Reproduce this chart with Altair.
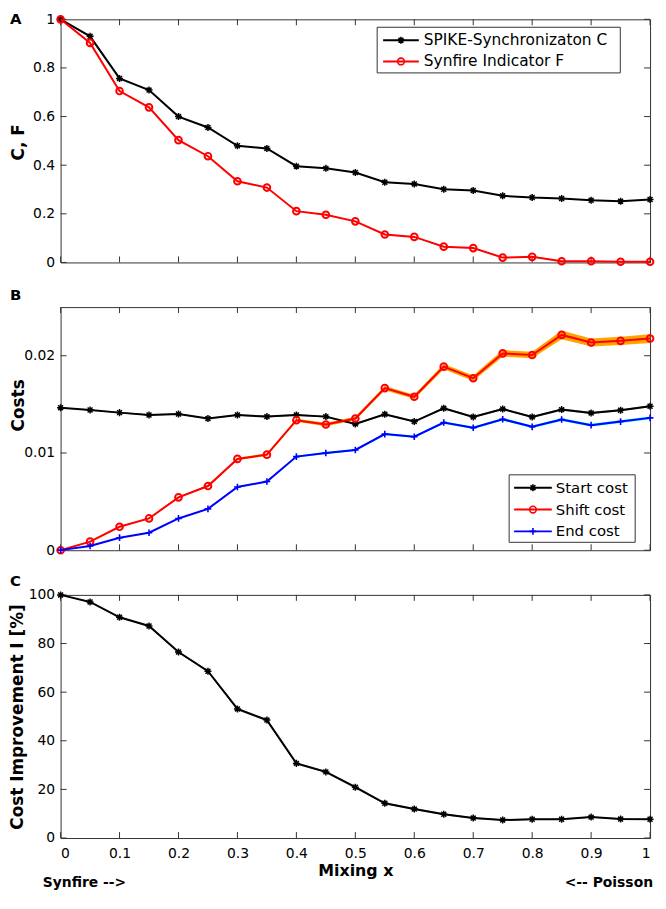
import altair as alt
import pandas as pd

# ---------------- data ----------------
mix = [0.0, 0.05, 0.1, 0.15, 0.2, 0.25, 0.3, 0.35, 0.4, 0.45, 0.5,
       0.55, 0.6, 0.65, 0.7, 0.75, 0.8, 0.85, 0.9, 0.95, 1.0]

spike_c = [1.0, 0.930, 0.757, 0.709, 0.600, 0.555, 0.480, 0.469, 0.396, 0.387, 0.370,
           0.330, 0.323, 0.301, 0.296, 0.274, 0.267, 0.263, 0.256, 0.252, 0.259]
synfire_f = [1.0, 0.903, 0.705, 0.638, 0.503, 0.437, 0.334, 0.308, 0.211, 0.196, 0.169,
             0.115, 0.105, 0.065, 0.059, 0.020, 0.023, 0.005, 0.005, 0.003, 0.003]

start_cost = [0.01466, 0.01442, 0.01415, 0.01391, 0.01401, 0.01354, 0.01391, 0.01374, 0.01391, 0.01374, 0.01299,
              0.01398, 0.01323, 0.01459, 0.01371, 0.01452, 0.01371, 0.01446, 0.01412, 0.01439, 0.01480]
start_err = [0.00005, 0.00006, 0.00006, 0.00007, 0.00007, 0.00007, 0.00008, 0.00008, 0.00008, 0.00008, 0.00009,
             0.00009, 0.00009, 0.00010, 0.00010, 0.00010, 0.00010, 0.00011, 0.00011, 0.00011, 0.00011]
shift_cost = [0.0, 0.00088, 0.00241, 0.00327, 0.00544, 0.00660, 0.00939, 0.00983, 0.01337, 0.01293, 0.01354,
              0.01667, 0.01578, 0.01888, 0.01769, 0.02024, 0.02007, 0.02214, 0.02136, 0.02153, 0.02177]
shift_err = [0.0, 0.00003, 0.00005, 0.00006, 0.00008, 0.00010, 0.00012, 0.00013, 0.00016, 0.00017, 0.00018,
             0.00022, 0.00022, 0.00028, 0.00028, 0.00034, 0.00034, 0.00045, 0.00042, 0.00042, 0.00045]
end_cost = [0.00001, 0.00044, 0.00129, 0.00180, 0.00327, 0.00425, 0.00650, 0.00707, 0.00963, 0.01000, 0.01031,
            0.01194, 0.01167, 0.01313, 0.01259, 0.01347, 0.01269, 0.01344, 0.01286, 0.01323, 0.01361]
end_err = [0.0, 0.00002, 0.00003, 0.00004, 0.00005, 0.00006, 0.00007, 0.00008, 0.00009, 0.00010, 0.00010,
           0.00011, 0.00011, 0.00012, 0.00012, 0.00013, 0.00013, 0.00014, 0.00014, 0.00014, 0.00015]

improvement = [100.0, 97.1, 90.8, 87.2, 76.5, 68.6, 53.1, 48.5, 30.7, 27.2, 20.9,
               14.3, 11.9, 9.8, 8.2, 7.4, 7.7, 7.7, 8.6, 7.8, 7.7]
improvement_err = [0.0, 0.2, 0.3, 0.3, 0.4, 0.4, 0.5, 0.5, 0.5, 0.5, 0.5,
                   0.4, 0.4, 0.4, 0.3, 0.3, 0.3, 0.3, 0.3, 0.3, 0.3]

x_ticks = [0, 0.1, 0.2, 0.3, 0.4, 0.5, 0.6, 0.7, 0.8, 0.9, 1.0]
a_ticks = [0, 0.2, 0.4, 0.6, 0.8, 1.0]
b_ticks = [0, 0.01, 0.02]
c_ticks = [0, 20, 40, 60, 80, 100]

legend_a = ["SPIKE-Synchronizaton C", "Synfire Indicator F"]
legend_b = ["Start cost", "Shift cost", "End cost"]
panel_letters = ["A", "B", "C"]
x_title = "Mixing x"
y_titles = ["C, F", "Costs", "Cost Improvement I [%]"]
bottom_notes = ["Synfire -->", "<-- Poisson"]

# ---------------- style ----------------
FONT = "DejaVu Sans"
AX = "#333333"
W, H = 594, 245
STAR = "M-1,0L1,0M0,-1L0,1M-0.7,-0.7L0.7,0.7M-0.7,0.7L0.7,-0.7"
PLUS = "M-1,0L1,0M0,-1L0,1"

xs = alt.Scale(domain=[0, 1], nice=False, zero=False)

df_a = pd.DataFrame({"mix": mix, "c": spike_c, "f": synfire_f})
df_b = pd.DataFrame({
    "mix": mix,
    "start": start_cost, "start_lo": [v - e for v, e in zip(start_cost, start_err)],
    "start_hi": [v + e for v, e in zip(start_cost, start_err)],
    "shift": shift_cost, "shift_lo": [v - e for v, e in zip(shift_cost, shift_err)],
    "shift_hi": [v + e for v, e in zip(shift_cost, shift_err)],
    "end": end_cost, "end_lo": [v - e for v, e in zip(end_cost, end_err)],
    "end_hi": [v + e for v, e in zip(end_cost, end_err)],
})
df_c = pd.DataFrame({
    "mix": mix, "imp": improvement,
    "imp_lo": [v - e for v, e in zip(improvement, improvement_err)],
    "imp_hi": [v + e for v, e in zip(improvement, improvement_err)],
})


def y_axis(values, title, title_x, title_y):
    return alt.Axis(values=values, format="~r", ticks=False, tickSize=0, domain=False, grid=False,
                    labelFont=FONT, labelFontSize=14, labelColor="#000", labelPadding=6,
                    title=title, titleFont=FONT, titleFontSize=17, titleFontWeight="bold",
                    titleColor="#000", titleX=title_x, titleY=title_y)


def tick_layers(yvals, ys, xax, yax):
    xdf = pd.DataFrame({"t": x_ticks})
    ydf = pd.DataFrame({"t": yvals})
    rule = dict(color=AX, strokeWidth=1)
    return [
        alt.Chart(xdf).mark_rule(**rule).encode(x=alt.X("t:Q", scale=xs, axis=xax),
                                                y=alt.value(H), y2=alt.value(H - 6)),
        alt.Chart(xdf).mark_rule(**rule).encode(x=alt.X("t:Q", scale=xs, axis=xax),
                                                y=alt.value(0), y2=alt.value(6)),
        alt.Chart(ydf).mark_rule(**rule).encode(y=alt.Y("t:Q", scale=ys, axis=yax),
                                                x=alt.value(0), x2=alt.value(6)),
        alt.Chart(ydf).mark_rule(**rule).encode(y=alt.Y("t:Q", scale=ys, axis=yax),
                                                x=alt.value(W - 6), x2=alt.value(W)),
    ]


def letter(ch, top):
    d = pd.DataFrame({"s": [ch]})
    return alt.Chart(d).mark_text(align="left", baseline="top", font=FONT, fontSize=15,
                                  fontWeight="bold", color="#000").encode(
        x=alt.value(-51), y=alt.value(top), text="s:N")


def legend(labels, colors, shapes, sizes, box, x0, x1, tx, ys_pos, fs):
    layers = []
    bdf = pd.DataFrame({"k": [0]})
    layers.append(alt.Chart(bdf).mark_rect(fill="white", stroke=AX, strokeWidth=1).encode(
        x=alt.value(box[0]), x2=alt.value(box[1]), y=alt.value(box[2]), y2=alt.value(box[3])))
    for lab, col, shp, sz, yy in zip(labels, colors, shapes, sizes, ys_pos):
        d = pd.DataFrame({"label": [lab]})
        layers.append(alt.Chart(d).mark_rule(color=col, strokeWidth=2).encode(
            x=alt.value(x0), x2=alt.value(x1), y=alt.value(yy)))
        layers.append(alt.Chart(d).mark_point(shape=shp, filled=False, color=col, size=sz,
                                              strokeWidth=1.6, opacity=1).encode(
            x=alt.value((x0 + x1) / 2), y=alt.value(yy)))
        layers.append(alt.Chart(d).mark_text(align="left", baseline="middle", font=FONT,
                                             fontSize=fs, color="#000").encode(
            x=alt.value(tx), y=alt.value(yy), text="label:N"))
    return layers


def series(df, field, color, shape, size, sw, xax, yax, ys):
    ln = alt.Chart(df).mark_line(color=color, strokeWidth=2).encode(
        x=alt.X("mix:Q", scale=xs, axis=xax),
        y=alt.Y(f"{field}:Q", scale=ys, axis=yax))
    pt = alt.Chart(df).mark_point(shape=shape, filled=False, color=color, size=size,
                                  strokeWidth=sw, opacity=1).encode(
        x=alt.X("mix:Q", scale=xs, axis=xax),
        y=alt.Y(f"{field}:Q", scale=ys, axis=yax))
    return [ln, pt]


def band(df, field, color, xax, yax, ys):
    return alt.Chart(df).mark_area(color=color, opacity=1).encode(
        x=alt.X("mix:Q", scale=xs, axis=xax),
        y=alt.Y(f"{field}_lo:Q", scale=ys, axis=yax),
        y2=f"{field}_hi:Q")


# ---------------- panel A ----------------
ys_a = alt.Scale(domain=[0, 1], nice=False, zero=False)
ya = y_axis(a_ticks, y_titles[0], -33, H / 2 + 1)
la_r = W - 30
panel_a = alt.layer(
    *tick_layers(a_ticks, ys_a, None, ya),
    *series(df_a, "c", "#000000", STAR, 50, 1.5, None, ya, ys_a),
    *series(df_a, "f", "#ff0000", "circle", 45, 2, None, ya, ys_a),
    *legend(legend_a, ["#000000", "#ff0000"], [STAR, "circle"], [50, 45],
            (la_r - 245, la_r, 8, 54), la_r - 239, la_r - 203, la_r - 198, [21, 42.5], 15.5),
    letter(panel_letters[0], -7),
).properties(width=W, height=H)

# ---------------- panel B ----------------
ys_b = alt.Scale(domain=[0, 0.025], nice=False, zero=False)
yb = y_axis(b_ticks, y_titles[1], -33, H / 2 - 24)
lb_r = W - 15
panel_b = alt.layer(
    *tick_layers(b_ticks, ys_b, None, yb),
    band(df_b, "start", "#9a9a9a", None, yb, ys_b),
    band(df_b, "shift", "#ffa500", None, yb, ys_b),
    band(df_b, "end", "#00ffff", None, yb, ys_b),
    *series(df_b, "start", "#000000", STAR, 50, 1.5, None, yb, ys_b),
    *series(df_b, "shift", "#ff0000", "circle", 45, 2, None, yb, ys_b),
    *series(df_b, "end", "#0000ff", PLUS, 45, 1.6, None, yb, ys_b),
    *legend(legend_b, ["#000000", "#ff0000", "#0000ff"], [STAR, "circle", PLUS], [50, 45, 45],
            (lb_r - 127, lb_r, 169, 237), lb_r - 122, lb_r - 84, lb_r - 80, [182, 204, 226], 15),
    letter(panel_letters[1], -19),
).properties(width=W, height=H)

# ---------------- panel C ----------------
ys_c = alt.Scale(domain=[0, 100], nice=False, zero=False)
yc = y_axis(c_ticks, y_titles[2], -34, H / 2)
xc = alt.Axis(values=x_ticks, format="~r", ticks=False, tickSize=0, domain=False, grid=False,
              labelFont=FONT, labelFontSize=14, labelColor="#000", labelPadding=9,
              title=x_title, titleFont=FONT, titleFontSize=16, titleFontWeight="bold",
              titleColor="#000", titlePadding=2)
notes_df = pd.DataFrame({"s": [bottom_notes[0]]})
notes_df2 = pd.DataFrame({"s": [bottom_notes[1]]})
panel_c = alt.layer(
    *tick_layers(c_ticks, ys_c, xc, yc),
    band(df_c, "imp", "#9a9a9a", xc, yc, ys_c),
    *series(df_c, "imp", "#000000", STAR, 50, 1.5, xc, yc, ys_c),
    alt.Chart(notes_df).mark_text(align="left", baseline="middle", font=FONT, fontSize=14,
                                  fontWeight="bold", color="#000").encode(
        x=alt.value(-18), y=alt.value(H + 45), text="s:N"),
    alt.Chart(notes_df2).mark_text(align="right", baseline="middle", font=FONT, fontSize=14,
                                   fontWeight="bold", color="#000").encode(
        x=alt.value(W + 3), y=alt.value(H + 45), text="s:N"),
    letter(panel_letters[2], -21),
).properties(width=W, height=H)

chart = alt.vconcat(panel_a, panel_b, panel_c, spacing=45, bounds="flush").properties(
    padding={"left": 0, "top": 0, "right": 0, "bottom": 0}
).configure_view(stroke=AX, strokeWidth=1).configure_axis(grid=False)

chart.save("out.html", embed_options={"renderer": "svg", "actions": False})
